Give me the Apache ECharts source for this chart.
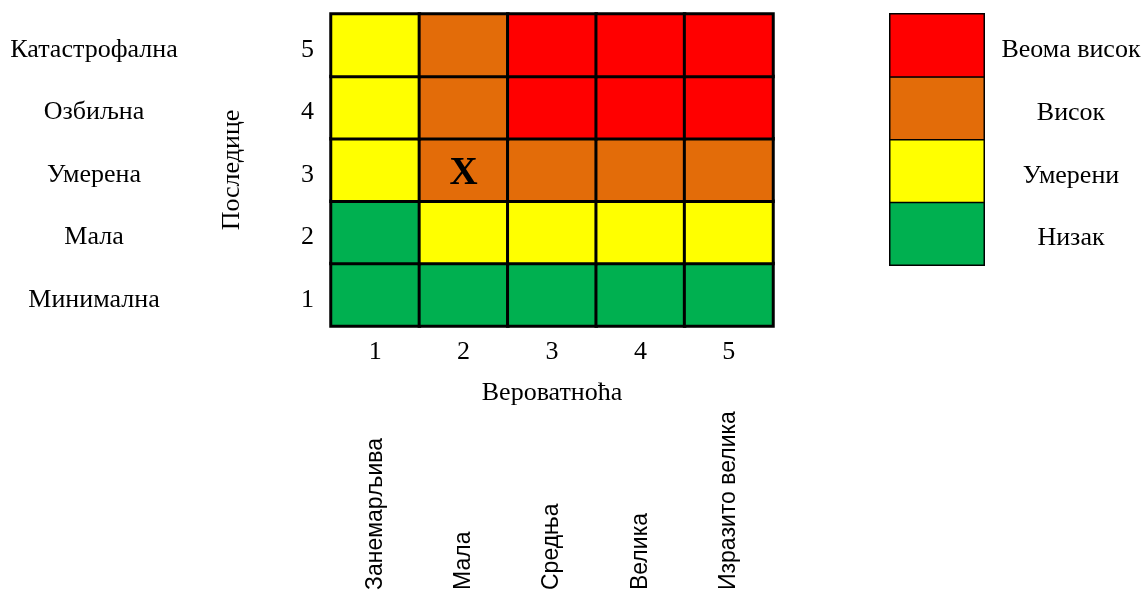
<!DOCTYPE html>
<html><head><meta charset="utf-8">
<script src="https://cdn.jsdelivr.net/npm/echarts@6/dist/echarts.min.js"></script>
<style>html,body{margin:0;padding:0;background:#fff}#c{width:1145px;height:591px}</style>
</head><body><div id="c"></div>
<script>
const probTicks = ['1','2','3','4','5'];
const probNames = ['Занемарљива','Мала','Средња','Велика','Изразито велика'];
const consTicks = ['1','2','3','4','5'];
const consNames = ['Минимална','Мала','Умерена','Озбиљна','Катастрофална'];
// risk level per consequence row (bottom -> top), one value per probability column
const row1 = [1,1,1,1,1];
const row2 = [1,2,2,2,2];
const row3 = [2,3,3,3,3];
const row4 = [2,3,4,4,4];
const row5 = [2,3,4,4,4];
const levelNames = ['Низак','Умерени','Висок','Веома висок'];
const levelColors = ['#00B050','#FFFF00','#E36C09','#FF0000'];
const markedCell = [2, 3]; // probability, consequence
const markText = 'X';

const rows = [row1,row2,row3,row4,row5];
const matrixData = [];
rows.forEach((r, yi) => r.forEach((v, xi) => {
  const item = {value: [xi, yi, v]};
  if (xi === markedCell[0]-1 && yi === markedCell[1]-1) {
    item.label = {show: true, formatter: markText};
  }
  matrixData.push(item);
}));
const legendData = levelNames.map((n, i) => [0, i, i+1]);

const serif = 'Liberation Serif';
const fs = 26;
const shifted = {color: '#000', fontFamily: serif, fontSize: fs, padding: [10, 0, 0, 0]};
const fmt = v => '{a|' + v + '}';
const chart = echarts.init(document.getElementById('c'));
chart.setOption({
  animation: false,
  backgroundColor: '#fff',
  grid: [
    {left: 331, top: 14, right: 372, bottom: 265, outerBoundsMode: 'none', containLabel: false},
    {left: 890, top: 14, right: 161, bottom: 326, outerBoundsMode: 'none', containLabel: false}
  ],
  visualMap: {
    type: 'piecewise', show: false, dimension: 2, seriesIndex: [0,1],
    pieces: levelColors.map((c, i) => ({value: i+1, color: c}))
  },
  xAxis: [
    {gridIndex: 0, type: 'category', data: probTicks, position: 'bottom',
     axisLine: {show: false}, axisTick: {show: false}, splitLine: {show: false},
     axisLabel: {color: '#000', fontFamily: serif, fontSize: fs, margin: 13},
     name: 'Вероватноћа', nameLocation: 'middle', nameGap: 54,
     nameTextStyle: {color: '#000', fontFamily: serif, fontSize: fs}},
    {gridIndex: 0, type: 'category', data: probNames, position: 'bottom', offset: 263,
     axisLine: {show: false}, axisTick: {show: false},
     axisLabel: {rotate: 90, align: 'left', verticalAlign: 'middle', margin: 1, color: '#000',
                 fontFamily: 'Liberation Sans', fontSize: 23}},
    {gridIndex: 1, type: 'category', data: [''], show: false}
  ],
  yAxis: [
    {gridIndex: 0, type: 'category', data: consTicks, position: 'left',
     axisLine: {show: false}, axisTick: {show: false}, splitLine: {show: false},
     axisLabel: {margin: 17, formatter: fmt, rich: {a: shifted}},
     name: 'Последице', nameLocation: 'middle', nameRotate: 90, nameGap: 86,
     nameTextStyle: {color: '#000', fontFamily: serif, fontSize: fs}},
    {gridIndex: 0, type: 'category', data: consNames, position: 'left',
     axisLine: {show: false}, axisTick: {show: false},
     axisLabel: {margin: 237, align: 'center', formatter: fmt, rich: {a: shifted}}},
    {gridIndex: 1, type: 'category', data: levelNames, position: 'right',
     axisLine: {show: false}, axisTick: {show: false}, splitLine: {show: false},
     axisLabel: {margin: 87, align: 'center', formatter: fmt, rich: {a: shifted}}}
  ],
  series: [
    {type: 'heatmap', xAxisIndex: 0, yAxisIndex: 0, data: matrixData,
     itemStyle: {borderColor: '#000', borderWidth: 3},
     label: {show: false, color: '#000', fontFamily: serif, fontWeight: 'bold', fontSize: 39, offset: [0, 4]},
     emphasis: {disabled: true}},
    {type: 'heatmap', xAxisIndex: 2, yAxisIndex: 2, data: legendData,
     itemStyle: {borderColor: '#000', borderWidth: 1.5},
     label: {show: false}, emphasis: {disabled: true}}
  ]
});
</script></body></html>
